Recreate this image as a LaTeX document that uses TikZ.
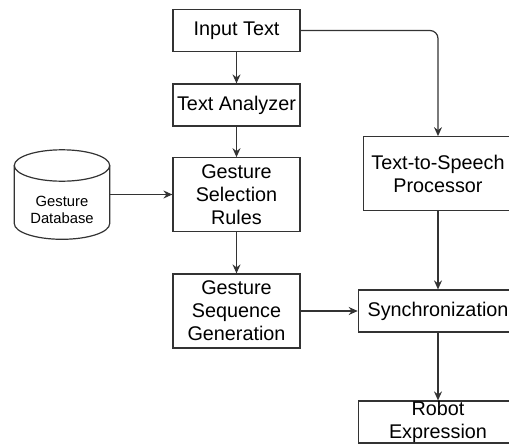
\documentclass[tikz,border=0pt]{standalone}
\usepackage{fontspec}
\setmainfont{Liberation Sans}
\usetikzlibrary{arrows.meta}
\definecolor{edge}{HTML}{333333}
\tikzset{
  box/.style={draw=edge, line width=1.2pt, rectangle, inner sep=0pt, align=center,
    font=\fontsize{19.8}{23}\selectfont, text=black},
  arrow/.style={draw=edge, line width=1.2pt, -{Stealth[length=9pt,width=8pt,inset=3pt]}},
}
\begin{document}
\begin{tikzpicture}[x=1pt,y=1pt]
\useasboundingbox (0,0) rectangle (509,-444);
\clip (0,0) rectangle (509,-444);

% left column
\node[box, minimum width=127pt, minimum height=42pt] (inp) at (236.5,-30.5) {Input Text};
\node[box, minimum width=127pt, minimum height=42pt] (ana) at (236.5,-105) {Text Analyzer};
\node[box, minimum width=127pt, minimum height=73.5pt] (gsr) at (236.5,-194.5) {Gesture\\Selection\\Rules};
\node[box, minimum width=127pt, minimum height=74pt] (gsg) at (236.5,-311) {Gesture\\Sequence\\Generation};

% right column
\node[box, minimum width=149.4pt, minimum height=73.6pt] (tts) at (438,-173.5) {Text-to-Speech\\Processor};
\node[box, minimum width=159.4pt, minimum height=42pt] (syn) at (438,-311) {Synchronization};
\node[box, minimum width=159.4pt, minimum height=42pt] (rob) at (438,-422) {Robot\\Expression};

% database cylinder
\draw[edge, line width=1.2pt, fill=white]
  (14.3,-165.5) -- (14.3,-223.6)
  arc[start angle=180, end angle=360, x radius=47.7, y radius=15.7]
  -- (109.7,-165.5)
  arc[start angle=0, end angle=180, x radius=47.7, y radius=15.7];
\draw[edge, line width=1.2pt]
  (14.3,-165.5) arc[start angle=180, end angle=360, x radius=47.7, y radius=15.7];
\node[inner sep=0pt, minimum width=95.4pt, minimum height=89.6pt] (db) at (62,-194.5) {};
\node[align=center, font=\fontsize{14.8}{17}\selectfont, text=black] (dblabel) at (62,-209.5) {Gesture\\Database};

% connectors
\draw[arrow] (inp) -- (ana);
\draw[arrow] (ana) -- (gsr);
\draw[arrow] (gsr) -- (gsg);
\draw[arrow] (db.east) -- (gsr.west);
\draw[arrow, rounded corners=8pt] (inp.east) -| (tts.north);
\draw[arrow] (tts) -- (syn);
\draw[arrow] (gsg.east) -- (syn.west);
\draw[arrow] (syn) -- (rob);
\end{tikzpicture}
\end{document}
